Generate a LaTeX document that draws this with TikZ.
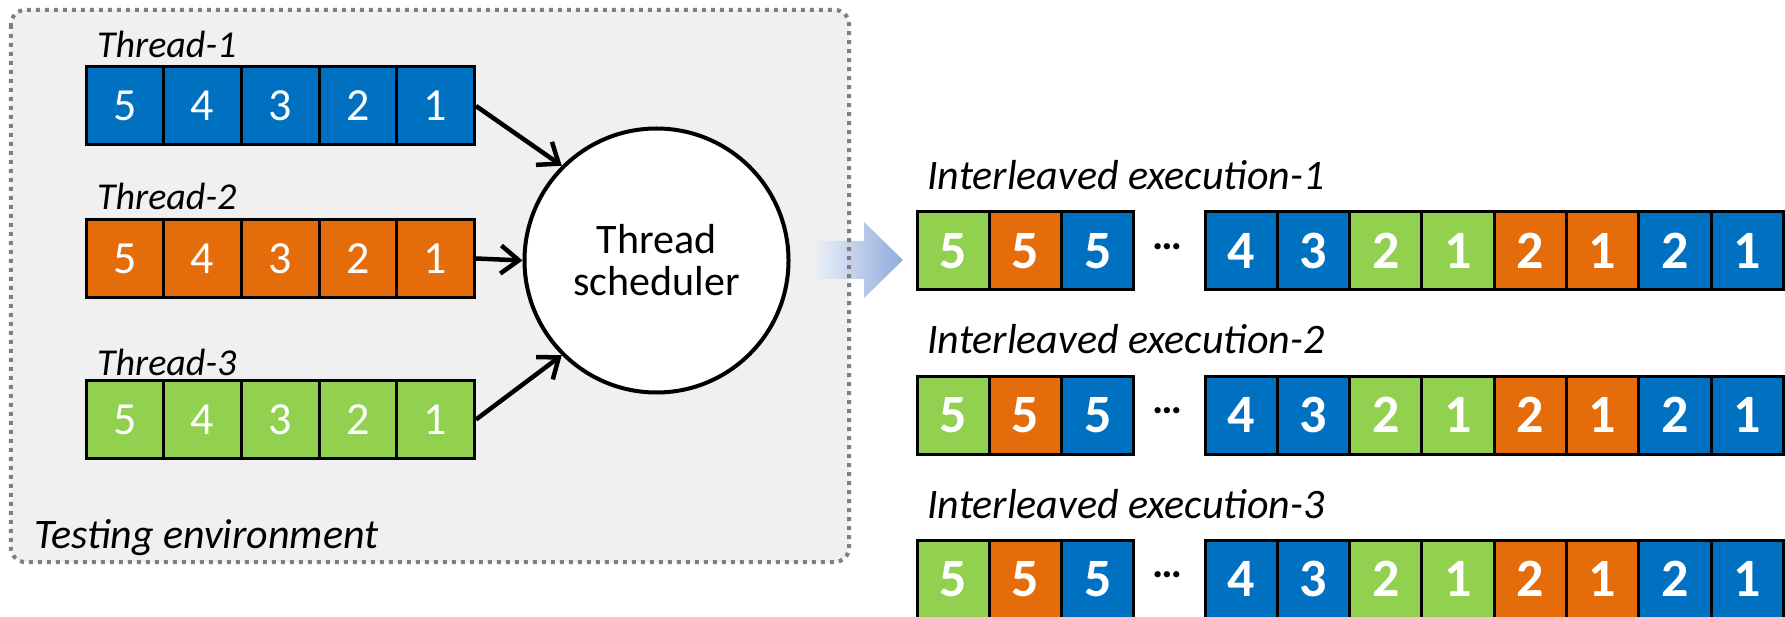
\documentclass[tikz,border=0pt]{standalone}
\usepackage{fontspec}
\setmainfont{Carlito}
\usetikzlibrary{arrows.meta}
\definecolor{tblue}{HTML}{0070C0}
\definecolor{torange}{HTML}{E46C0A}
\definecolor{tgreen}{HTML}{92D050}
\definecolor{envgray}{HTML}{F0F0F0}
\definecolor{dotgray}{HTML}{808080}
\definecolor{arrowL}{RGB}{232,238,248}
\definecolor{arrowR}{RGB}{143,170,220}
\begin{document}
\begin{tikzpicture}[x=1pt,y=-1pt,
  cell/.style={draw=black, line width=3pt, minimum width=77.7pt, minimum height=78pt, inner sep=0pt, text=white, font=\fontsize{46}{46}\selectfont},
  icell/.style={draw=black, line width=3pt, minimum width=72.3pt, minimum height=78pt, inner sep=0pt, text=white, font=\fontsize{54}{54}\selectfont\bfseries},
  lbl/.style={anchor=base west, inner sep=0pt, font=\fontsize{42}{42}\selectfont\itshape},
  tlbl/.style={anchor=base west, inner sep=0pt, font=\fontsize{38}{38}\selectfont\itshape},
  conn/.style={line width=4.5pt, -{Straight Barb[length=18pt,width=28pt]}},
  envbox/.style={fill=envgray, rounded corners=15pt, inner sep=0pt, minimum width=838pt, minimum height=552pt},
  envborder/.style={draw=dotgray, line width=4pt, dash pattern=on 4pt off 5pt, rounded corners=15pt},
  dotsnode/.style={anchor=base, inner sep=0pt, font=\fontsize{42}{42}\selectfont\bfseries},
  ]
\useasboundingbox (0,0) rectangle (1785,617);
% environment box
\node[envbox] (env) at (430,286) {};
% big arrow
\shade[left color=arrowL, right color=arrowR] (817,241) -- (864,241) -- (864,222) -- (903,260) -- (864,298) -- (864,279) -- (817,279) -- cycle;
\draw[envborder] (env.north west) rectangle (env.south east);
\node[lbl] (envlbl) at (34,548) {Testing environment};
% thread rows
\node[tlbl] (l1) at (97,58) {Thread-1};
\node[tlbl] (l2) at (97,210) {Thread-2};
\node[tlbl] (l3) at (97,376) {Thread-3};
\foreach \c [count=\i] in {5,4,3,2,1} {
  \node[cell, fill=tblue] (ta\i) at ({86+77.7*(\i-0.5)},106) {\c};
  \node[cell, fill=torange] (tb\i) at ({86+77.7*(\i-0.5)},258.5) {\c};
  \node[cell, fill=tgreen] (tc\i) at ({86+77.7*(\i-0.5)},419.5) {\c};
}
% scheduler
\node[circle, draw=black, line width=4pt, fill=white, minimum size=264pt, inner sep=0pt, align=center, font=\fontsize{42}{42}\selectfont] (sched) at (656.5,260.5) {Thread\\scheduler};
\draw[conn] (ta5.east) -- (sched.135);
\draw[conn] (tb5.east) -- (sched.west);
\draw[conn] (tc5.east) -- (sched.225);
% interleaved executions
\foreach \r/\y/\ly in {1/251/190,2/415/354,3/579/518} {
  \node[lbl] (ie\r) at (927,\ly) {Interleaved execution-\r};
  \foreach \col/\d [count=\i] in {tgreen/5,torange/5,tblue/5} {
    \node[icell, fill=\col] (e\r a\i) at ({917+72.3*(\i-0.5)},\y) {\d};
  }
  \node[dotsnode] (dots\r) at (1167,\y-1.5) {…};
  \foreach \col/\d [count=\i] in {tblue/4,tblue/3,tgreen/2,tgreen/1,torange/2,torange/1,tblue/2,tblue/1} {
    \node[icell, fill=\col] (e\r b\i) at ({1205+72.3*(\i-0.5)},\y) {\d};
  }
}
\end{tikzpicture}
\end{document}
